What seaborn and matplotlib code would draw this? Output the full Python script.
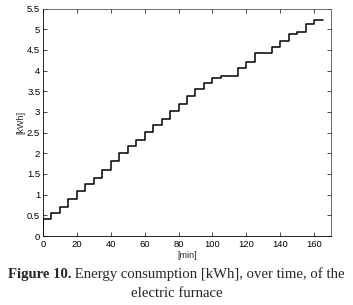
import matplotlib
matplotlib.use("Agg")
import matplotlib.pyplot as plt
import seaborn as sns
import pandas as pd

# ---- data ----
time_min = [0, 0, 5, 10, 15, 20, 25, 30, 35, 40, 45, 50, 55, 60, 65, 70, 75, 80,
            85, 90, 95, 100, 105, 110, 115, 120, 125, 130, 135, 140, 145, 150,
            155, 160, 165]
energy_kwh = [0.20, 0.40, 0.55, 0.70, 0.90, 1.10, 1.26, 1.40, 1.60, 1.81, 2.01,
              2.17, 2.33, 2.51, 2.68, 2.83, 3.02, 3.20, 3.39, 3.55, 3.71, 3.83,
              3.87, 3.87, 4.07, 4.21, 4.42, 4.42, 4.58, 4.71, 4.88, 4.93, 5.12,
              5.22, 5.22]
x_ticks = [0, 20, 40, 60, 80, 100, 120, 140, 160]
y_ticks = [0, 0.5, 1, 1.5, 2, 2.5, 3, 3.5, 4, 4.5, 5, 5.5]
y_tick_labels = ["0", "0.5", "1", "1.5", "2", "2.5", "3", "3.5", "4", "4.5", "5", "5.5"]
x_label = "[min]"
y_label = "[kWh]"
caption_bold = "Figure 10."
caption_line1 = "Energy consumption [kWh], over time, of the"
caption_line2 = "electric furnace"

df = pd.DataFrame({"t": time_min, "E": energy_kwh})

sns.set_style("white")
plt.rcParams["font.family"] = ["Liberation Sans", "DejaVu Sans"]

fig = plt.figure(figsize=(3.53, 3.05), dpi=100)
ax = fig.add_axes([43 / 353, 1 - 236 / 305, (331 - 43) / 353, (236 - 8.6) / 305])

sns.lineplot(data=df, x="t", y="E", ax=ax, estimator=None, sort=False,
             drawstyle="steps-post", color="black", linewidth=1.1)

ax.set_xlim(0, 170)
ax.set_ylim(0, 5.5)
ax.set_xticks(x_ticks)
ax.set_xticklabels([str(v) for v in x_ticks])
ax.set_yticks(y_ticks)
ax.set_yticklabels(y_tick_labels)
ax.tick_params(direction="in", length=3, width=0.5, labelsize=6.8,
               top=True, right=True, bottom=True, left=True, pad=2,
               colors="black")
ax.tick_params(axis="x", pad=3)
for side, sp in ax.spines.items():
    sp.set_visible(True)
    sp.set_linewidth(0.6)
    sp.set_color("black" if side in ("left", "bottom") else "#555555")

ax.set_xlabel(x_label, fontsize=6.5, labelpad=1)
ax.set_ylabel(y_label, fontsize=6.5, labelpad=1)

# caption
serif = ["Liberation Serif", "DejaVu Serif"]
fs = 10.6
fig.canvas.draw()
r = fig.canvas.get_renderer()
t1 = fig.text(0, 1 - 278 / 305, caption_bold, family=serif, weight="bold",
              fontsize=fs, ha="left", va="baseline")
t2 = fig.text(0, 1 - 278 / 305, " " + caption_line1, family=serif,
              fontsize=fs, ha="left", va="baseline")
w1 = t1.get_window_extent(r).width
w2 = t2.get_window_extent(r).width
W = fig.bbox.width
x0 = (W - (w1 + w2)) / 2
t1.set_x(x0 / W)
t2.set_x((x0 + w1) / W)
fig.text(0.5, 1 - 297 / 305, caption_line2, family=serif, fontsize=fs,
         ha="center", va="baseline")

fig.savefig("out.png", dpi=100)
